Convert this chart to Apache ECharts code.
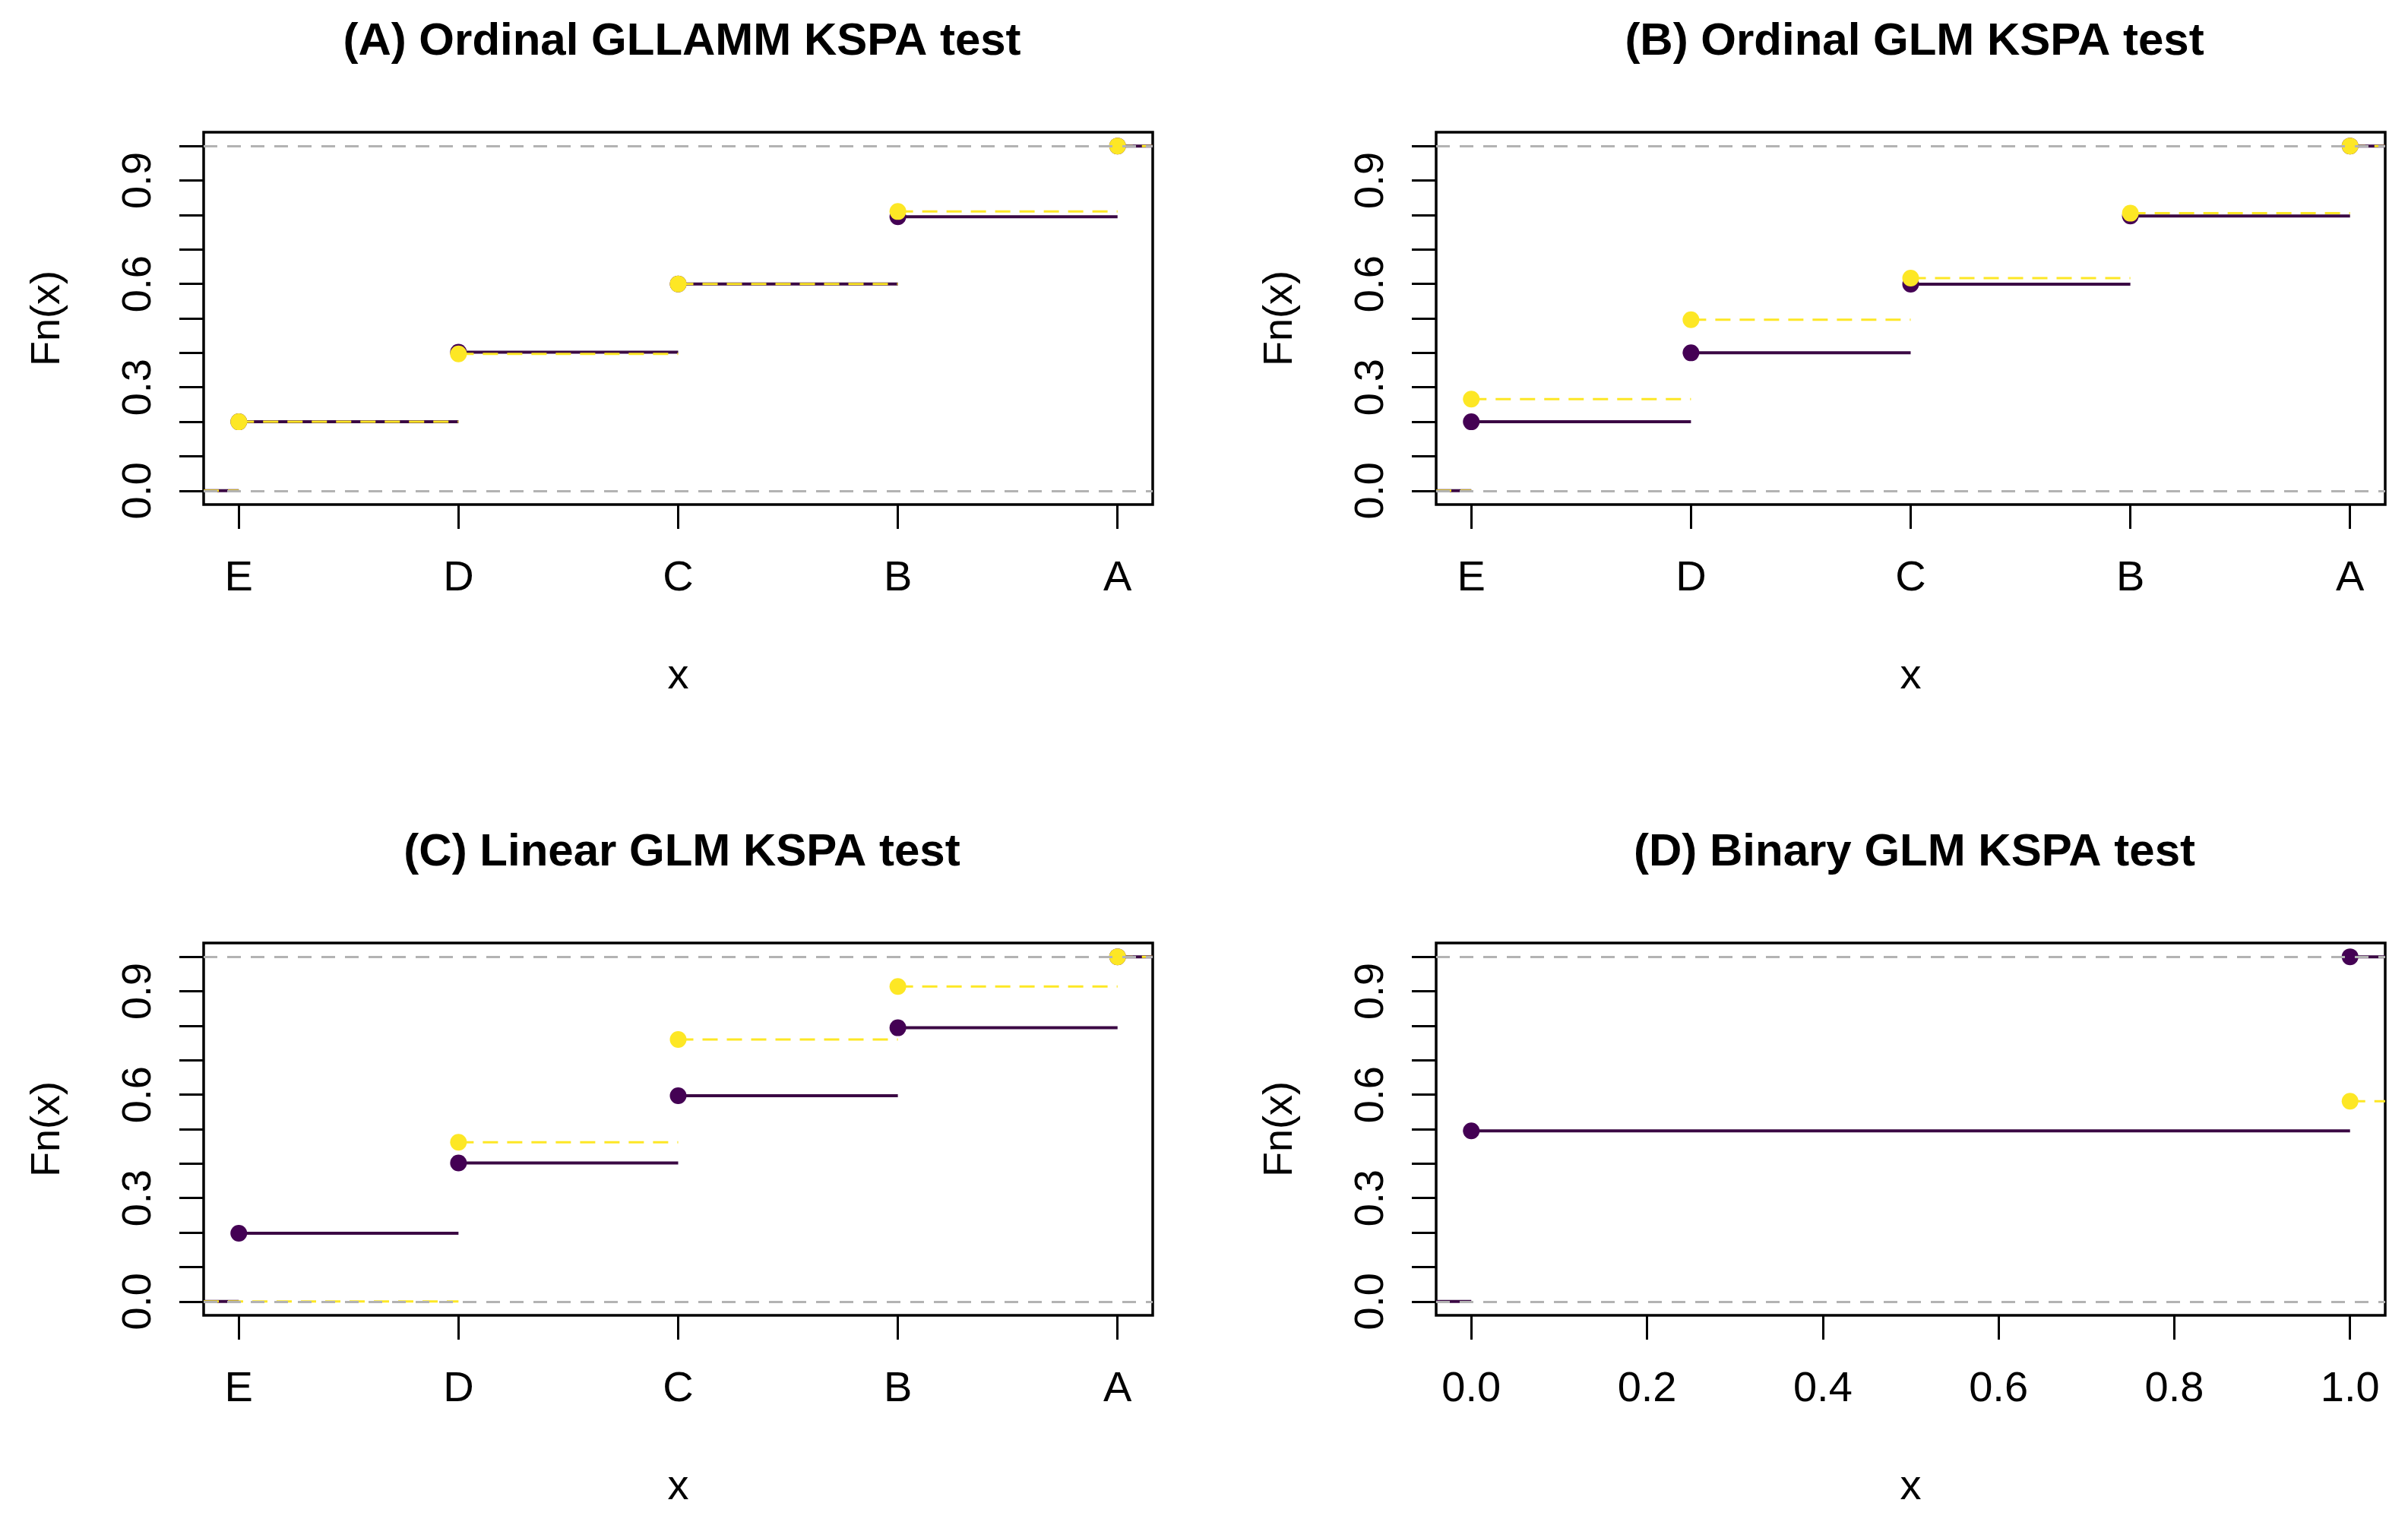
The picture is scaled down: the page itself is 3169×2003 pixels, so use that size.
<!DOCTYPE html>
<html>
<head>
<meta charset="utf-8">
<script src="https://cdn.jsdelivr.net/npm/echarts@6/dist/echarts.min.js"></script>
<style>html,body{margin:0;padding:0;background:#fff}#c{width:3169px;height:2003px}</style>
</head>
<body>
<div id="c"></div>
<script>
// ---------- data ----------
const panelTitles = ['(A) Ordinal GLLAMM KSPA test', '(B) Ordinal GLM KSPA test', '(C) Linear GLM KSPA test', '(D) Binary GLM KSPA test'];
const gradeCategories = ['E', 'D', 'C', 'B', 'A'];
const gradePositions = [1, 2, 3, 4, 5];
const binaryPositions = [0, 1];
const binaryTicks = [0, 0.2, 0.4, 0.6, 0.8, 1.0];
const yTicks = [0, 0.1, 0.2, 0.3, 0.4, 0.5, 0.6, 0.7, 0.8, 0.9, 1.0];
const yLabelTicks = [0, 0.3, 0.6, 0.9];

// ECDF heights at each knot (null = no knot there)
const ecdfA_purple = [0.2, 0.402, 0.6, 0.795, 1.0];
const ecdfA_yellow = [0.2, 0.397, 0.6, 0.81, 1.0];
const ecdfB_purple = [0.2, 0.4, 0.599, 0.797, 1.0];
const ecdfB_yellow = [0.266, 0.496, 0.617, 0.805, 1.0];
const ecdfC_purple = [0.198, 0.402, 0.597, 0.794, 1.0];
const ecdfC_yellow = [null, 0.462, 0.76, 0.914, 1.0];
const ecdfD_purple = [0.495, 1.0];
const ecdfD_yellow = [null, 0.581];

// ---------- styling / layout ----------
const FONT = "'Liberation Sans',Arial,sans-serif";
const TFONT = "'Liberation Sans',Arial,sans-serif";
const PURPLE = '#440154';
const PURPLE_LINE = '#3b0944';
const YELLOW = '#FDE725';
const GW = 1249, GH = 490;
const boxes = [
  {left: 268, top: 174}, {left: 1890, top: 174},
  {left: 268, top: 1241}, {left: 1890, top: 1241}
];
const gradeFmt = v => gradeCategories[gradePositions.indexOf(v)];
const panels = [
  {title: panelTitles[0], xs: gradePositions, ticks: gradePositions, fmt: gradeFmt, purple: ecdfA_purple, yellow: ecdfA_yellow, xmin: 0.84, xmax: 5.16, yellowLead: true},
  {title: panelTitles[1], xs: gradePositions, ticks: gradePositions, fmt: gradeFmt, purple: ecdfB_purple, yellow: ecdfB_yellow, xmin: 0.84, xmax: 5.16, yellowLead: true},
  {title: panelTitles[2], xs: gradePositions, ticks: gradePositions, fmt: gradeFmt, purple: ecdfC_purple, yellow: ecdfC_yellow, xmin: 0.84, xmax: 5.16, yellowLead: true},
  {title: panelTitles[3], xs: binaryPositions, ticks: binaryTicks, fmt: v => v.toFixed(1), purple: ecdfD_purple, yellow: ecdfD_yellow, xmin: -0.04, xmax: 1.04, yellowLead: false}
];

function stepSeries(xs, ys, xmin, xmax, gi, color, lineColor, dashed, zLine, zPt, withRefLines, lead) {
  const knots = xs.map((x, i) => ({x: x, y: ys[i]})).filter(k => k.y !== null);
  const segs = lead ? [[xmin, knots[0].x, 0]] : [];
  knots.forEach((k, i) => segs.push([k.x, i + 1 < knots.length ? knots[i + 1].x : xmax, k.y]));
  const out = segs.map(s => ({
    type: 'line', xAxisIndex: gi, yAxisIndex: gi, silent: true, z: zLine,
    data: [[s[0], s[2]], [s[1], s[2]]], symbol: 'none', showSymbol: false,
    lineStyle: {color: lineColor, width: dashed ? 3 : 4, type: dashed ? [20, 12] : 'solid', cap: 'butt'}
  }));
  const pts = {
    type: 'scatter', xAxisIndex: gi, yAxisIndex: gi, silent: true, z: zPt,
    data: knots.map(k => [k.x, k.y]), symbol: 'circle', symbolSize: 22,
    itemStyle: {color: color, opacity: 1}
  };
  if (withRefLines) {
    pts.markLine = {
      silent: true, z: 5, symbol: ['none', 'none'], label: {show: false},
      lineStyle: {color: '#B3B3B3', width: 3, type: [18, 13]},
      emphasis: {disabled: true},
      data: [{yAxis: 0}, {yAxis: 1}]
    };
  }
  out.push(pts);
  return out;
}

const option = {
  animation: false,
  backgroundColor: '#fff',
  title: [], grid: [], xAxis: [], yAxis: [], series: []
};

panels.forEach((p, i) => {
  const b = boxes[i];
  option.grid.push({left: b.left, top: b.top, width: GW, height: GH, show: true, borderColor: '#000', borderWidth: 3.5, backgroundColor: 'transparent', containLabel: false});
  option.title.push({
    text: p.title, left: b.left + GW / 2, top: b.top - 154, textAlign: 'center',
    textStyle: {fontSize: 60, fontWeight: 'bold', fontFamily: TFONT, color: '#000'}
  });
  option.xAxis.push({
    gridIndex: i, type: 'value', min: p.xmin, max: p.xmax, position: 'bottom',
    axisLine: {show: false, onZero: false}, splitLine: {show: false},
    axisTick: {show: true, customValues: p.ticks, length: 32, lineStyle: {color: '#000', width: 3}},
    axisLabel: {customValues: p.ticks, formatter: p.fmt, fontSize: 56, fontFamily: FONT, color: '#000', margin: 70},
    name: 'x', nameLocation: 'middle', nameGap: 199,
    nameTextStyle: {fontSize: 56, fontFamily: FONT, color: '#000'}
  });
  option.yAxis.push({
    gridIndex: i, type: 'value', min: -0.04, max: 1.04, position: 'left',
    axisLine: {show: false, onZero: false}, splitLine: {show: false},
    axisTick: {show: true, customValues: yTicks, length: 32, lineStyle: {color: '#000', width: 3}},
    axisLabel: {customValues: yLabelTicks, formatter: v => v.toFixed(1), rotate: 90, fontSize: 54, fontFamily: FONT, color: '#000', margin: 58},
    name: 'Fn(x)', nameLocation: 'middle', nameGap: 178, nameRotate: 90,
    nameTextStyle: {fontSize: 54, fontFamily: FONT, color: '#000'}
  });
  option.series.push(...stepSeries(p.xs, p.purple, p.xmin, p.xmax, i, PURPLE, PURPLE_LINE, false, 1, 2, false, true));
  option.series.push(...stepSeries(p.xs, p.yellow, p.xmin, p.xmax, i, YELLOW, YELLOW, true, 3, 4, true, p.yellowLead));
});

const chart = echarts.init(document.getElementById('c'), null, {renderer: 'canvas', width: 3169, height: 2003});
chart.setOption(option);
</script>
</body>
</html>
